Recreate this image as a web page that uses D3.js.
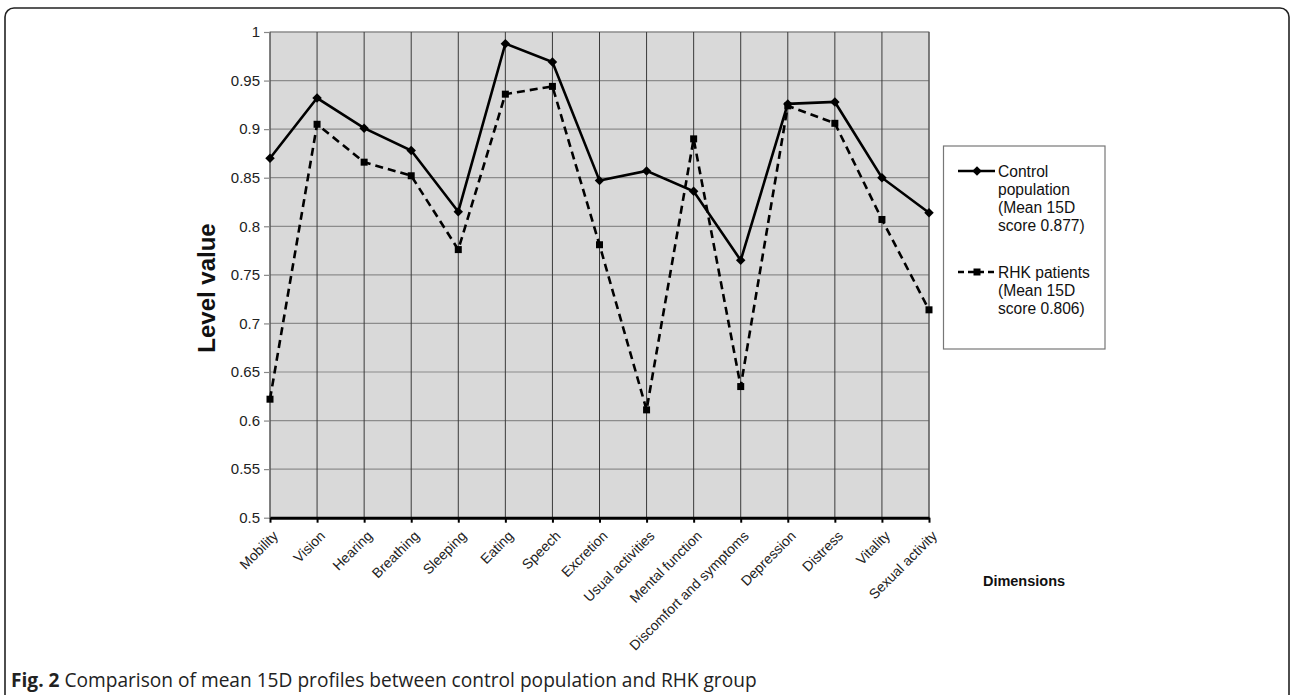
<!DOCTYPE html>
<html>
<head>
<meta charset="utf-8">
<script src="https://cdn.jsdelivr.net/npm/d3@7"></script>
<style>
  html, body { margin: 0; padding: 0; background: #fff; }
  svg { display: block; }
</style>
</head>
<body>
<svg id="chart" width="1292" height="695"></svg>
<script>
const categories = ["Mobility", "Vision", "Hearing", "Breathing", "Sleeping", "Eating", "Speech",
  "Excretion", "Usual activities", "Mental function", "Discomfort and symptoms", "Depression",
  "Distress", "Vitality", "Sexual activity"];
const controlValues = [0.870, 0.932, 0.901, 0.878, 0.815, 0.988, 0.969, 0.847, 0.857, 0.836, 0.765, 0.926, 0.928, 0.850, 0.814];
const rhkValues = [0.622, 0.905, 0.866, 0.852, 0.776, 0.936, 0.944, 0.781, 0.611, 0.890, 0.635, 0.924, 0.906, 0.807, 0.714];
const yTicks = [0.5, 0.55, 0.6, 0.65, 0.7, 0.75, 0.8, 0.85, 0.9, 0.95, 1];
const legendControl = ["Control", "population", "(Mean 15D", "score 0.877)"];
const legendRhk = ["RHK patients", "(Mean 15D", "score 0.806)"];
const yTitle = "Level value";
const xTitle = "Dimensions";
const captionBold = "Fig. 2";
const captionText = " Comparison of mean 15D profiles between control population and RHK group";

(function () {
const svg = d3.select("#chart");
const FONT = "Liberation Sans, Arial, sans-serif";

// figure frame
svg.append("rect").attr("x", 5).attr("y", 8).attr("width", 1284).attr("height", 720)
  .attr("rx", 9).attr("fill", "none").attr("stroke", "#222").attr("stroke-width", 1.6);

const pL = 270, pR = 929, pT = 32, pB = 517.7;
const x = d3.scalePoint().domain(categories).range([pL, pR]).padding(0);
const y = d3.scaleLinear().domain([0.5, 1]).range([pB, pT]);

// plot background
svg.append("rect").attr("x", pL).attr("y", pT).attr("width", pR - pL).attr("height", pB - pT)
  .attr("fill", "#d9d9d9").attr("stroke", "#8c8c8c").attr("stroke-width", 1);

// horizontal grid
svg.append("g").selectAll("line").data(yTicks.slice(1)).join("line")
  .attr("x1", pL).attr("x2", pR)
  .attr("y1", d => y(d)).attr("y2", d => y(d))
  .attr("stroke", "#8c8c8c").attr("stroke-width", 1.2);

// vertical grid
svg.append("g").selectAll("line").data(categories).join("line")
  .attr("x1", d => x(d)).attr("x2", d => x(d))
  .attr("y1", pT).attr("y2", pB)
  .attr("stroke", "#3a3a3a").attr("stroke-width", 1);

// y axis
const yAxis = d3.axisLeft(y).tickValues(yTicks).tickSize(6).tickPadding(4)
  .tickFormat(d => String(+d.toFixed(2)));
const gy = svg.append("g").attr("transform", `translate(${pL},0)`).call(yAxis);
gy.select(".domain").remove();
gy.selectAll(".tick line").attr("stroke", "#888").attr("stroke-width", 1.2);
gy.selectAll(".tick text").attr("font-family", FONT).attr("font-size", 15).attr("fill", "#222");

// x axis
const xAxis = d3.axisBottom(x).tickSize(5).tickSizeOuter(0);
const gx = svg.append("g").attr("transform", `translate(0,${pB})`).call(xAxis);
gx.select(".domain").attr("stroke", "#000").attr("stroke-width", 3);
gx.selectAll(".tick line").attr("stroke", "#000").attr("stroke-width", 2);
gx.selectAll(".tick text")
  .attr("font-family", FONT).attr("font-size", 14).attr("fill", "#222")
  .attr("text-anchor", "end").attr("dy", null).attr("y", null)
  .attr("transform", "translate(8.5,19) rotate(-45)");

// lines
const line = d3.line().x((d, i) => x(categories[i])).y(d => y(d));
svg.append("path").datum(controlValues).attr("d", line)
  .attr("fill", "none").attr("stroke", "#000").attr("stroke-width", 2.6).attr("stroke-linejoin", "miter");
svg.append("path").datum(rhkValues).attr("d", line)
  .attr("fill", "none").attr("stroke", "#000").attr("stroke-width", 2.6).attr("stroke-dasharray", "8,5");

// markers
svg.append("g").selectAll("path").data(controlValues).join("path")
  .attr("d", d3.symbol().type(d3.symbolSquare).size(45))
  .attr("transform", (d, i) => `translate(${x(categories[i])},${y(d)}) rotate(45)`)
  .attr("fill", "#000");
svg.append("g").selectAll("rect").data(rhkValues).join("rect")
  .attr("x", (d, i) => x(categories[i]) - 3.5).attr("y", d => y(d) - 3.5)
  .attr("width", 7).attr("height", 7).attr("fill", "#000");

// axis titles
svg.append("text").attr("transform", "translate(215,288) rotate(-90)")
  .attr("text-anchor", "middle").attr("font-family", FONT).attr("font-weight", "bold")
  .attr("font-size", 24).attr("fill", "#111").text(yTitle);
svg.append("text").attr("x", 1024).attr("y", 586)
  .attr("text-anchor", "middle").attr("font-family", FONT).attr("font-weight", "bold")
  .attr("font-size", 14.5).attr("fill", "#111").text(xTitle);

// legend
const lg = svg.append("g");
lg.append("rect").attr("x", 943.5).attr("y", 146).attr("width", 161.5).attr("height", 203)
  .attr("fill", "#fff").attr("stroke", "#777").attr("stroke-width", 1.2);
lg.append("line").attr("x1", 958).attr("x2", 995).attr("y1", 171).attr("y2", 171)
  .attr("stroke", "#000").attr("stroke-width", 2.6);
lg.append("path").attr("d", d3.symbol().type(d3.symbolSquare).size(45))
  .attr("transform", "translate(977,171) rotate(45)").attr("fill", "#000");
legendControl.forEach((t, i) => {
  lg.append("text").attr("x", 998).attr("y", 176.5 + i * 18.2)
    .attr("font-family", FONT).attr("font-size", 15.6).attr("fill", "#111").text(t);
});
lg.append("line").attr("x1", 958).attr("x2", 995).attr("y1", 272).attr("y2", 272)
  .attr("stroke", "#000").attr("stroke-width", 2.6).attr("stroke-dasharray", "6,4");
lg.append("rect").attr("x", 973.5).attr("y", 268.5).attr("width", 7).attr("height", 7).attr("fill", "#000");
legendRhk.forEach((t, i) => {
  lg.append("text").attr("x", 998).attr("y", 277.5 + i * 18.2)
    .attr("font-family", FONT).attr("font-size", 15.6).attr("fill", "#111").text(t);
});

// caption
const cap = svg.append("text").attr("x", 11).attr("y", 687)
  .attr("font-family", "Open Sans, Lato, sans-serif").attr("font-size", 16).attr("fill", "#222");
cap.append("tspan").attr("font-weight", "bold").text(captionBold);
cap.append("tspan").text(captionText);
const w = cap.node().getComputedTextLength();
cap.attr("font-size", 16 * 746 / w);
})();
</script>
</body>
</html>
